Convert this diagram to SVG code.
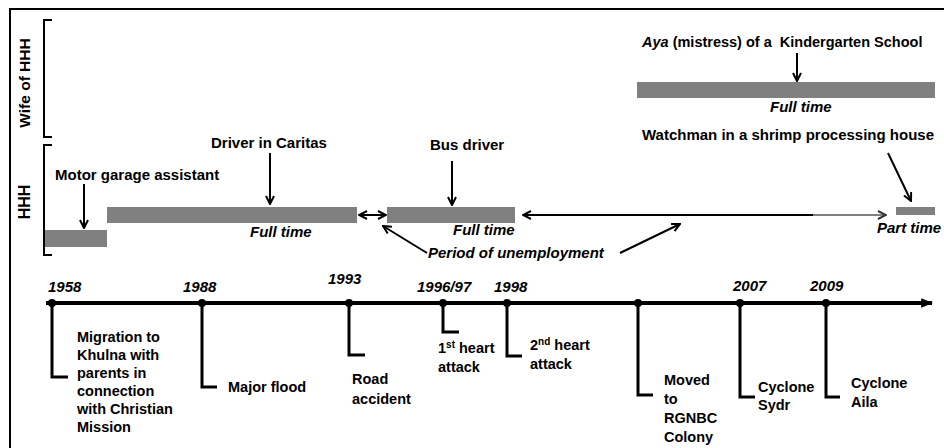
<svg xmlns="http://www.w3.org/2000/svg" width="944" height="448" viewBox="0 0 944 448">
<style>
text{font-family:"Liberation Sans",Arial,sans-serif;fill:#000;}
.b{font-weight:bold;font-size:15px;}
.bi{font-weight:bold;font-style:italic;font-size:15px;}
.s{font-weight:bold;font-size:14.5px;}
.yr{font-weight:bold;font-style:italic;font-size:15px;}
.bar{fill:#808080;}
.ar{stroke:#000;stroke-width:2;fill:none;}
.drop{stroke:#000;stroke-width:3;fill:none;}
.brk{stroke:#000;stroke-width:2;fill:none;}
</style>
<defs>
<marker id="v" viewBox="0 0 10 10" refX="9" refY="5" markerWidth="10" markerHeight="10" markerUnits="userSpaceOnUse" orient="auto-start-reverse">
<path d="M1,1 L9,5 L1,9" fill="none" stroke="#000" stroke-width="2"/>
</marker>
<marker id="vg" viewBox="0 0 10 10" refX="9" refY="5" markerWidth="10" markerHeight="10" markerUnits="userSpaceOnUse" orient="auto">
<path d="M1,1 L9,5 L1,9" fill="none" stroke="#333" stroke-width="2"/>
</marker>
<marker id="tri" viewBox="0 0 10 10" refX="9" refY="5" markerWidth="12" markerHeight="12" markerUnits="userSpaceOnUse" orient="auto">
<path d="M0,1 L10,5 L0,9 Z" fill="#000"/>
</marker>
</defs>
<rect x="10" y="9" width="960" height="460" fill="none" stroke="#000" stroke-width="2"/>

<g id="label-wife">
<path class="brk" d="M52,20 H44 V137 H52"/>
<text class="b" transform="translate(30,83) rotate(-90)" text-anchor="middle" style="font-size:15.5px">Wife of HHH</text>
</g>
<g id="label-hhh">
<path class="brk" d="M52,145 H44 V255 H52"/>
<text class="b" transform="translate(30,202) rotate(-90)" text-anchor="middle" style="font-size:16px">HHH</text>
</g>

<g id="motor">
<rect class="bar" x="45" y="230" width="62" height="17"/>
<text class="b" x="55" y="180">Motor garage assistant</text>
</g>
<g id="caritas">
<rect class="bar" x="107" y="207" width="250" height="16"/>
<text class="b" x="211" y="148">Driver in Caritas</text>
<text class="bi" x="250" y="237">Full time</text>
</g>
<g id="bus">
<rect class="bar" x="387" y="207" width="128" height="16"/>
<text class="b" x="430" y="150">Bus driver</text>
<text class="bi" x="453" y="235">Full time</text>
</g>
<g id="unemployment">
<text class="bi" x="428" y="258">Period of unemployment</text>
</g>
<g id="aya">
<rect class="bar" x="637" y="82" width="298" height="16"/>
<text class="b" x="642" y="47" xml:space="preserve" style="font-size:14.5px"><tspan font-style="italic">Aya</tspan> (mistress) of a  Kindergarten School</text>
<text class="bi" x="770" y="112">Full time</text>
</g>
<g id="watchman">
<rect class="bar" x="896" y="207" width="39" height="8"/>
<text class="b" x="642" y="140">Watchman in a shrimp processing house</text>
<text class="bi" x="877" y="233">Part time</text>
</g>

<g id="timeline">
<line x1="46" y1="303" x2="932" y2="303" stroke="#000" stroke-width="4" marker-end="url(#tri)"/>
</g>

<g id="e1958">
<circle cx="52" cy="303" r="4"/>
<text class="yr" x="48" y="292">1958</text>
<text class="s"><tspan x="77" y="342">Migration to</tspan><tspan x="77" y="360">Khulna with</tspan><tspan x="77" y="378">parents in</tspan><tspan x="77" y="396">connection</tspan><tspan x="77" y="414">with Christian</tspan><tspan x="77" y="432">Mission</tspan></text>
</g>
<g id="e1988">
<circle cx="202" cy="303" r="4"/>
<text class="yr" x="183" y="292">1988</text>
<text class="s" x="228" y="392">Major flood</text>
</g>
<g id="e1993">
<circle cx="349" cy="303" r="4"/>
<text class="yr" x="328" y="284">1993</text>
<text class="s"><tspan x="352" y="384">Road</tspan><tspan x="352" y="404">accident</tspan></text>
</g>
<g id="e1996">
<circle cx="443" cy="303" r="4"/>
<text class="yr" x="417" y="292">1996/97</text>
<text class="s"><tspan x="438" y="353">1</tspan><tspan dy="-5" font-size="10">st</tspan><tspan dy="5"> heart</tspan><tspan x="438" y="372">attack</tspan></text>
</g>
<g id="e1998">
<circle cx="507" cy="303" r="4"/>
<text class="yr" x="494" y="292">1998</text>
<text class="s"><tspan x="530" y="350">2</tspan><tspan dy="-5" font-size="10">nd</tspan><tspan dy="5"> heart</tspan><tspan x="530" y="369">attack</tspan></text>
</g>
<g id="e-moved">
<circle cx="638" cy="303" r="4"/>
<text class="s"><tspan x="664" y="385">Moved</tspan><tspan x="664" y="404">to</tspan><tspan x="664" y="423">RGNBC</tspan><tspan x="664" y="442">Colony</tspan></text>
</g>
<g id="e2007">
<circle cx="740" cy="303" r="4"/>
<text class="yr" x="733" y="291">2007</text>
<text class="s"><tspan x="758" y="392">Cyclone</tspan><tspan x="758" y="410">Sydr</tspan></text>
</g>
<g id="e2009">
<circle cx="826" cy="303" r="4"/>
<text class="yr" x="810" y="291">2009</text>
<text class="s"><tspan x="851" y="388">Cyclone</tspan><tspan x="851" y="407">Aila</tspan></text>
</g>

<g id="connectors">
<line class="ar" x1="84" y1="184" x2="84" y2="228" marker-end="url(#v)"/>
<line class="ar" x1="270" y1="153" x2="270" y2="204" marker-end="url(#v)"/>
<line class="ar" x1="452" y1="161" x2="452" y2="205" marker-end="url(#v)"/>
<line class="ar" x1="797" y1="53" x2="797" y2="81" marker-end="url(#v)"/>
<line class="ar" x1="888" y1="153" x2="911" y2="201" marker-end="url(#v)"/>
<line class="ar" x1="359" y1="215" x2="386" y2="215" marker-start="url(#v)" marker-end="url(#v)"/>
<line class="ar" x1="523" y1="215" x2="813" y2="215" marker-start="url(#v)"/>
<line x1="813" y1="215" x2="886" y2="215" stroke="#808080" stroke-width="2" marker-end="url(#vg)"/>
<line class="ar" x1="427" y1="253" x2="383" y2="226" marker-end="url(#v)"/>
<line class="ar" x1="620" y1="253" x2="680" y2="224" marker-end="url(#v)"/>
<path class="drop" d="M52,303 V377 H68"/>
<path class="drop" d="M202,303 V387 H217"/>
<path class="drop" d="M349,303 V355 H365"/>
<path class="drop" d="M443,303 V332 H459"/>
<path class="drop" d="M507,303 V356 H522"/>
<path class="drop" d="M638,303 V395 H653"/>
<path class="drop" d="M740,303 V397 H755"/>
<path class="drop" d="M826,303 V397 H840"/>
</g>
</svg>
